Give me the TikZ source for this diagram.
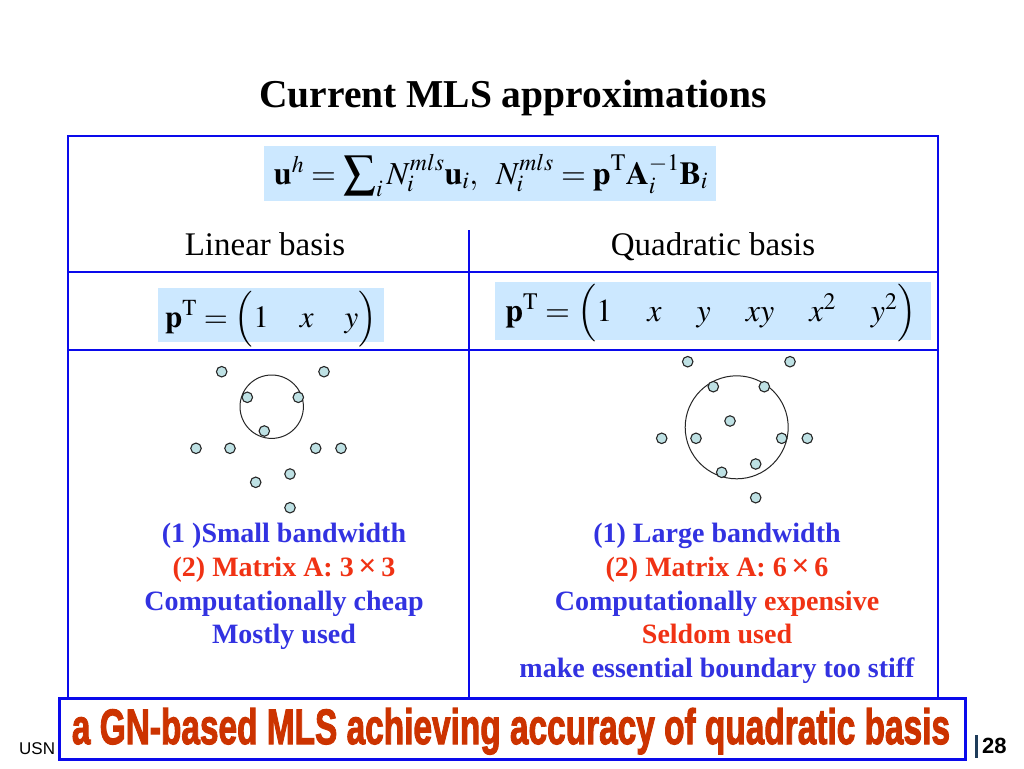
\documentclass[tikz,border=0pt]{standalone}
\usepackage{mathptmx}
\usepackage{fontspec}
\setmainfont{Liberation Serif}
\setsansfont{Liberation Sans}
\newfontfamily\impfont{Liberation Sans}[BoldFeatures={FakeBold=2.5}]
\usepackage{graphicx}
\definecolor{tblue}{RGB}{10,10,235}
\definecolor{txtblue}{RGB}{50,50,225}
\definecolor{txtred}{RGB}{240,50,20}
\definecolor{bannerred}{RGB}{204,51,0}
\definecolor{boxblue}{RGB}{204,232,255}
\definecolor{dotfill}{RGB}{190,225,228}
\definecolor{barcol}{RGB}{30,60,90}
\tikzset{
  tline/.style={draw=tblue, line width=2.6pt},
  mbox/.style={fill=boxblue, inner sep=0pt},
  dot/.style={circle, draw=black!85, fill=dotfill, line width=1.1pt, minimum size=10.5pt, inner sep=0pt},
  support/.style={circle, draw=black!85, line width=1pt, inner sep=0pt},
  hdr/.style={anchor=base, font=\fontsize{33}{36}\selectfont},
  btxt/.style={anchor=base, font=\fontsize{28}{32}\selectfont\bfseries, text=txtblue},
  rtxt/.style={anchor=base, font=\fontsize{28}{32}\selectfont\bfseries, text=txtred},
}
\begin{document}
\begin{tikzpicture}[x=1pt,y=-1pt]
\useasboundingbox[fill=white] (0,0) rectangle (1024,768);

% title
\node[anchor=base, font=\fontsize{39.5}{42}\selectfont\bfseries] (title) at (513,107) {Current MLS approximations};

% table
\draw[tline] (68,136) rectangle (938,722);
\draw[tline] (68,272) -- (938,272);
\draw[tline] (68,350) -- (938,350);
\draw[tline] (469,230) -- (469,722);

% main formula
\node[mbox, minimum width=452pt, minimum height=55pt] (fbox) at (490,173) {};
\node[anchor=base, font=\fontsize{32}{34}\selectfont] (formula) at (491,184)
  {$\mathbf{u}^{h}=\displaystyle\sum\nolimits_{i}N_{i}^{mls}\mathbf{u}_{i},\;\;N_{i}^{mls}=\mathbf{p}^{\mathrm{T}}\mathbf{A}_{i}^{-1}\mathbf{B}_{i}$};

% headers
\node[hdr] (lin) at (265,255) {Linear basis};
\node[hdr] (quad) at (713,255) {Quadratic basis};

% p^T boxes
\node[mbox, minimum width=226pt, minimum height=54pt] (lbox) at (271,315) {};
\node[anchor=base, font=\fontsize{31}{34}\selectfont] (lp) at (271,327)
  {$\mathbf{p}^{\mathrm{T}}=\left(\rule[-19pt]{0pt}{55pt}1\quad x\quad y\right)$};
\node[mbox, minimum width=436pt, minimum height=58pt] (rbox) at (713,311) {};
\node[anchor=base, font=\fontsize{32}{34}\selectfont] (rp) at (711,321)
  {$\mathbf{p}^{\mathrm{T}}=\left(\rule[-19pt]{0pt}{58pt}1\hspace{35pt}x\hspace{35pt}y\hspace{35pt}xy\hspace{35pt}x^{2}\hspace{35pt}y^{2}\right)$};

% left support domain
\node[support, minimum size=63.4pt] (lc) at (271.7,406.7) {};
\foreach \p [count=\i] in {(221.7,371.7),(324,371.7),(247.3,397.3),(298.3,397.3),(264.3,431),(196,448.3),(230,448.3),(315.7,448.3),(341,448.3),(290,474),(255.7,482.3),(290,507.7)}
  \node[dot] (L\i) at \p {};

% right support domain
\node[support, minimum size=103pt] (rc) at (736.7,427.3) {};
\foreach \p [count=\i] in {(687.7,361.7),(790,361.7),(713.3,386.7),(764.3,386.7),(730,421),(661.7,438.3),(696,438.3),(781.7,438.3),(807.3,438.3),(755.7,464),(721.7,472.3),(755.7,497.7)}
  \node[dot] (R\i) at \p {};

% left texts
\node[btxt] (l1) at (284,542) {(1 )Small bandwidth};
\node[rtxt] (l2) at (284,576) {(2) Matrix A: 3\,{\fontsize{32}{32}\selectfont ×}\,3};
\node[btxt] (l3) at (284,610) {Computationally cheap};
\node[btxt] (l4) at (284,643.5) {Mostly used};

% right texts
\node[btxt] (r1) at (717,542) {(1) Large bandwidth};
\node[rtxt] (r2) at (717,576) {(2) Matrix A: 6\,{\fontsize{32}{32}\selectfont ×}\,6};
\node[anchor=base, font=\fontsize{28}{32}\selectfont\bfseries] (r3) at (717,610) {\textcolor{txtblue}{Computationally} \textcolor{txtred}{expensive}};
\node[rtxt] (r4) at (717,643.5) {Seldom used};
\node[btxt] (r5) at (717,677) {make essential boundary too stiff};

% footer
\node[anchor=base west, inner sep=0pt, font=\sffamily\fontsize{17}{20}\selectfont] (usn) at (19,754) {USN};
\draw[barcol, line width=3pt] (976.5,735) -- (976.5,758);
\node[anchor=base west, inner sep=0pt, font=\sffamily\bfseries\fontsize{22}{24}\selectfont] (pg) at (982,753) {28};

% banner
\node[draw=tblue, line width=3pt, fill=white, minimum width=906pt, minimum height=61pt, inner sep=0pt] (banner) at (512,728.5) {};
\node[anchor=base, inner sep=0pt, text=bannerred] (btext) at (511,744)
  {\resizebox{878pt}{36pt}{\impfont\bfseries a GN-based MLS achieving accuracy of quadratic basis}};
\end{tikzpicture}
\end{document}
